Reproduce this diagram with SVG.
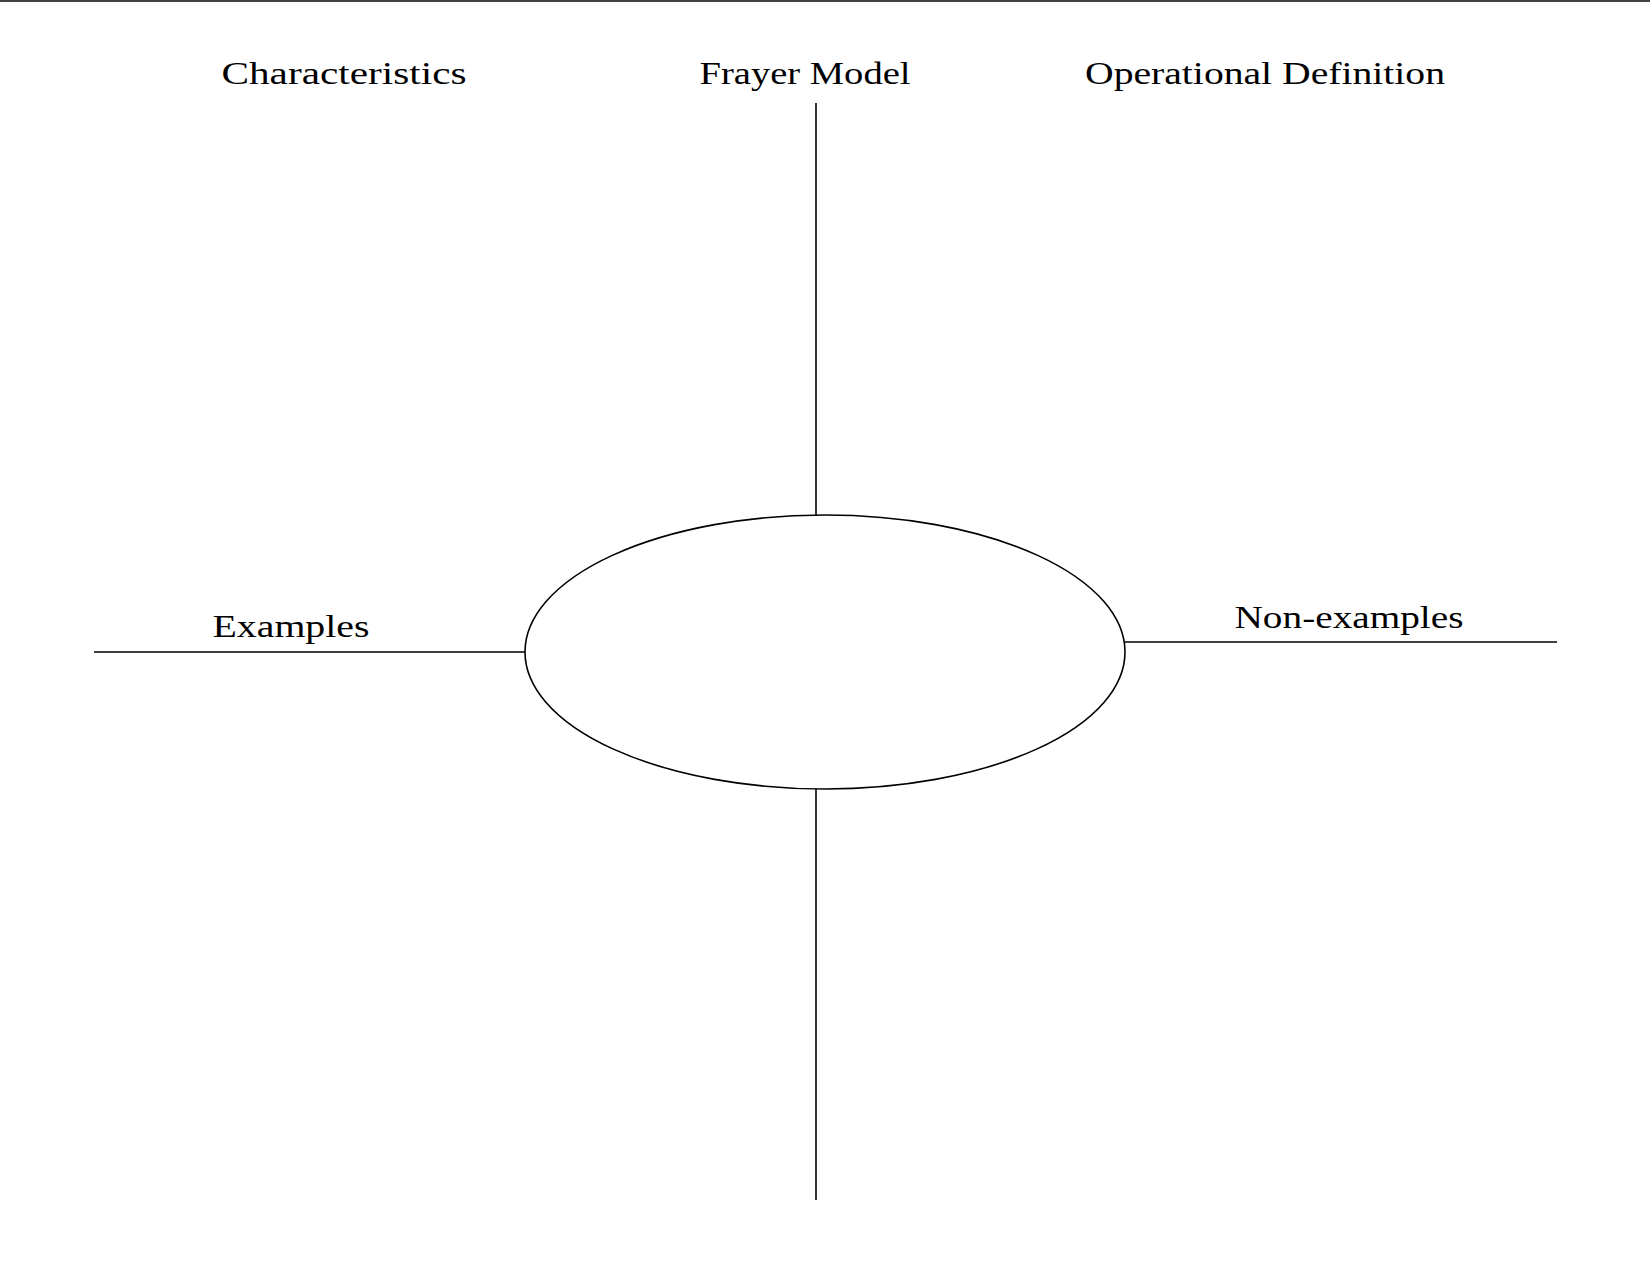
<svg xmlns="http://www.w3.org/2000/svg" width="1650" height="1275" viewBox="0 0 1650 1275">
<style>
.l{stroke:#000;stroke-width:1.6;fill:none}
.t{font-family:"Liberation Serif",serif;font-size:31px;fill:#000;text-anchor:middle}
</style>
<rect width="1650" height="1275" fill="#fff"/>
<g id="connectors">
<line class="l" x1="0" y1="1" x2="1650" y2="1"/>
<line class="l" x1="816" y1="103" x2="816" y2="516"/>
<line class="l" x1="816" y1="789" x2="816" y2="1200"/>
<line class="l" x1="94" y1="652" x2="525" y2="652"/>
<line class="l" x1="1125" y1="642" x2="1557" y2="642"/>
</g>
<g id="center"><ellipse class="l" cx="825" cy="652" rx="300" ry="137"/></g>
<g id="characteristics"><text class="t" x="344" y="84" textLength="245" lengthAdjust="spacingAndGlyphs">Characteristics</text></g>
<g id="title"><text class="t" x="805" y="84" textLength="211" lengthAdjust="spacingAndGlyphs">Frayer Model</text></g>
<g id="definition"><text class="t" x="1265" y="84" textLength="360" lengthAdjust="spacingAndGlyphs">Operational Definition</text></g>
<g id="examples"><text class="t" x="291" y="637" textLength="157" lengthAdjust="spacingAndGlyphs">Examples</text></g>
<g id="nonexamples"><text class="t" x="1349" y="628" textLength="229" lengthAdjust="spacingAndGlyphs">Non-examples</text></g>
</svg>
